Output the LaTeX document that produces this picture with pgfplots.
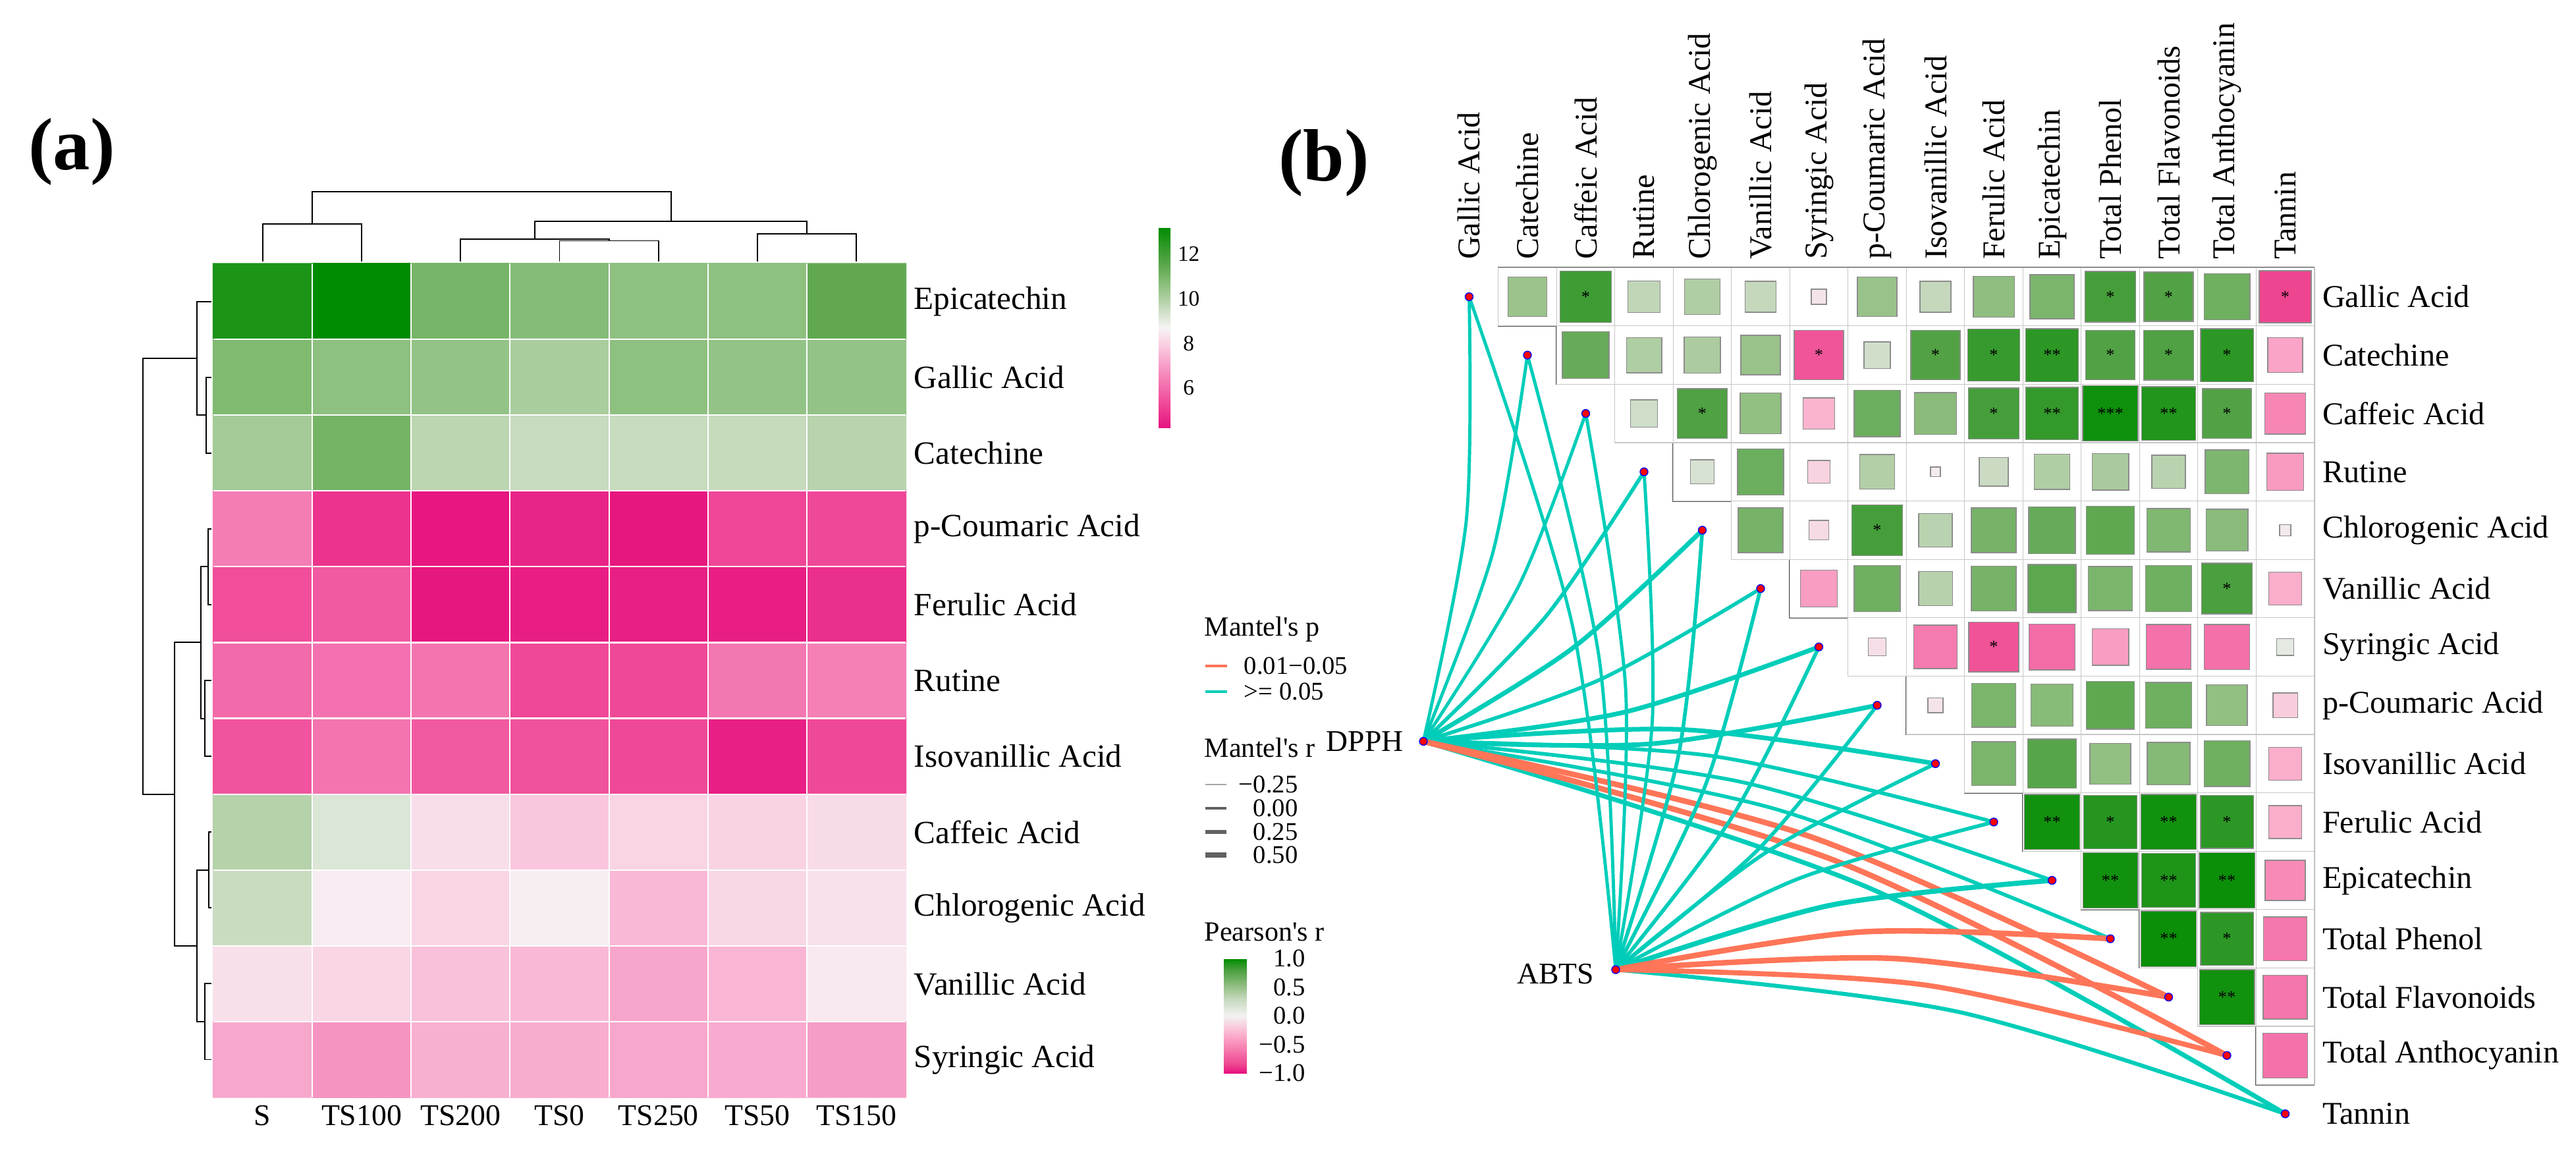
\documentclass[border=0pt]{standalone}
\usepackage{fontspec}
\setmainfont{Liberation Serif}
\usepackage{pgfplots}
\pgfplotsset{compat=1.18}
\usepackage{pgfplotstable}

\definecolor{lteal}{RGB}{0,205,185}
\definecolor{lorange}{RGB}{255,117,88}
\definecolor{rowline}{RGB}{85,85,85}

\pgfplotsset{
  /pgf/number format/assume math mode=true,
  colormap={hm}{rgb255(0pt)=(230,18,126) rgb255(120pt)=(239,71,151) rgb255(250pt)=(244,128,182) rgb255(400pt)=(250,199,222) rgb255(500pt)=(246,244,245) rgb255(620pt)=(188,213,177) rgb255(750pt)=(122,183,107) rgb255(800pt)=(98,168,82) rgb255(1000pt)=(0,140,0)},
  colormap={pr}{rgb255(0pt)=(231,17,126) rgb255(75pt)=(238,69,144) rgb255(250pt)=(248,140,185) rgb255(350pt)=(251,182,208) rgb255(500pt)=(242,242,242) rgb255(650pt)=(197,216,188) rgb255(750pt)=(151,193,135) rgb255(900pt)=(74,159,62) rgb255(1000pt)=(0,140,0)},
}

% heatmap values, rows top to bottom (y = 0 ... -10), columns S..TS150 (x = 0..6)
\pgfplotstableread{
x y v
0 0 12.7
1 0 13.2
2 0 11.0
3 0 10.75
4 0 10.6
5 0 10.6
6 0 11.4
0 -1 10.85
1 -1 10.6
2 -1 10.5
3 -1 10.1
4 -1 10.6
5 -1 10.5
6 -1 10.5
0 -2 10.2
1 -2 11.05
2 -2 9.76
3 -2 9.58
4 -2 9.58
5 -2 9.6
6 -2 9.85
0 -3 6.38
1 -3 4.89
2 -3 4.28
3 -3 4.57
4 -3 4.3
5 -3 5.26
6 -3 5.3
0 -4 5.4
1 -4 5.64
2 -4 4.3
3 -4 4.45
4 -4 4.47
5 -4 4.45
6 -4 4.8
0 -5 6.0
1 -5 6.14
2 -5 6.2
3 -5 5.3
4 -5 5.3
5 -5 6.27
6 -5 6.45
0 -6 5.54
1 -6 6.2
2 -6 5.64
3 -6 5.5
4 -6 5.3
5 -6 4.47
6 -6 5.3
0 -7 9.9
1 -7 9.18
2 -7 8.27
3 -7 7.78
4 -7 8.07
5 -7 8.05
6 -7 8.2
0 -8 9.54
1 -8 8.55
2 -8 8.08
3 -8 8.58
4 -8 7.52
5 -8 8.15
6 -8 8.33
0 -9 8.3
1 -9 8.1
2 -9 7.68
3 -9 7.54
4 -9 7.17
5 -9 7.48
6 -9 8.48
0 -10 7.2
1 -10 6.83
2 -10 7.36
3 -10 7.3
4 -10 7.2
5 -10 7.27
6 -10 7.0
}\hmdata

% Pearson's r, upper triangle: column x, row y (= -row index)
\pgfplotstableread{
x y r
1 0 0.48
2 0 0.83
3 0 0.32
4 0 0.39
5 0 0.30
6 0 -0.07
7 0 0.49
8 0 0.30
9 0 0.53
10 0 0.61
11 0 0.81
12 0 0.77
13 0 0.66
14 0 -0.85
2 -1 0.69
3 -1 0.39
4 -1 0.41
5 -1 0.49
6 -1 -0.77
7 -1 0.22
8 -1 0.77
9 -1 0.85
10 -1 0.88
11 -1 0.77
12 -1 0.78
13 -1 0.88
14 -1 -0.38
3 -2 0.23
4 -2 0.78
5 -2 0.52
6 -2 -0.31
7 -2 0.67
8 -2 0.55
9 -2 0.81
10 -2 0.86
11 -2 0.96
12 -2 0.91
13 -2 0.77
14 -2 -0.53
4 -3 0.18
5 -3 0.67
6 -3 -0.16
7 -3 0.38
8 -3 -0.03
9 -3 0.26
10 -3 0.39
11 -3 0.42
12 -3 0.35
13 -3 0.60
14 -3 -0.43
5 -4 0.63
6 -4 -0.12
7 -4 0.81
8 -4 0.35
9 -4 0.63
10 -4 0.69
11 -4 0.72
12 -4 0.59
13 -4 0.55
14 -4 -0.04
6 -5 -0.42
7 -5 0.66
8 -5 0.36
9 -5 0.63
10 -5 0.73
11 -5 0.61
12 -5 0.66
13 -5 0.80
14 -5 -0.34
7 -6 -0.10
8 -6 -0.59
9 -6 -0.78
10 -6 -0.66
11 -6 -0.42
12 -6 -0.63
13 -6 -0.64
14 -6 0.09
8 -7 -0.07
9 -7 0.61
10 -7 0.56
11 -7 0.72
12 -7 0.66
13 -7 0.52
14 -7 -0.19
9 -8 0.61
10 -8 0.75
11 -8 0.52
12 -8 0.57
13 -8 0.66
14 -8 -0.34
10 -9 0.95
11 -9 0.90
12 -9 0.95
13 -9 0.88
14 -9 -0.34
11 -10 0.95
12 -10 0.92
13 -10 0.97
14 -10 -0.51
12 -11 0.97
13 -11 0.88
14 -11 -0.60
13 -12 0.95
14 -12 -0.61
14 -13 -0.63
}\cells

\pgfplotstableread{
x y s
2 0 *
11 0 *
12 0 *
14 0 *
6 -1 *
8 -1 *
9 -1 *
10 -1 **
11 -1 *
12 -1 *
13 -1 *
4 -2 *
9 -2 *
10 -2 **
11 -2 ***
12 -2 **
13 -2 *
7 -4 *
13 -5 *
9 -6 *
10 -9 **
11 -9 *
12 -9 **
13 -9 *
11 -10 **
12 -10 **
13 -10 **
12 -11 **
13 -11 *
13 -12 **
}\stars

\begin{document}
\begin{tikzpicture}
\useasboundingbox (0,0) rectangle (39.11cm,-17.61cm);

% ---------------- (a) heatmap ----------------
\begin{axis}[
  at={(3.235cm,-4.0cm)}, anchor=north west,
  width=10.52cm, height=12.66cm, scale only axis,
  xmin=-0.5, xmax=6.5, ymin=-10.5, ymax=0.5,
  enlargelimits=false, clip=false, axis on top,
  axis line style={draw=none},
  xtick={0,...,6}, xticklabels={S,TS100,TS200,TS0,TS250,TS50,TS150},
  ytick={-10,...,0},
  yticklabels={Syringic Acid,Vanillic Acid,Chlorogenic Acid,Caffeic Acid,Isovanillic Acid,Rutine,Ferulic Acid,p-Coumaric Acid,Catechine,Gallic Acid,Epicatechin},
  yticklabel pos=right,
  major tick length=0pt, minor tick length=0pt,
  minor xtick={0.5,1.5,...,5.5}, minor ytick={-9.5,-8.5,...,-0.5},
  xminorgrids, yminorgrids, minor grid style={white, line width=0.6pt},
  xticklabel style={font=\fontsize{13}{15}\selectfont},
  yticklabel style={font=\fontsize{14}{16}\selectfont},
  colormap name=hm, point meta min=4.2, point meta max=13.2,
  colorbar,
  colorbar style={at={(parent axis.north east)}, anchor=north west,
    xshift=3.535cm, yshift=0.55cm, width=0.18cm, height=3.05cm,
    axis line style={draw=none}, major tick length=0pt,
    ytick={6,8,10,12}, yticklabels={6,8,10,12},
    yticklabel style={font=\fontsize{9.5}{11}\selectfont, anchor=west, text width=3.4mm, align=center, inner sep=0pt, xshift=1mm}},
]
\addplot[matrix plot*, mesh/cols=7, point meta=explicit] table[x=x, y=y, meta=v] {\hmdata};
% column dendrogram
\addplot[black, line width=0.55pt] coordinates {(0,0.53) (0,1.02) (1,1.02) (1,0.53)};
\addplot[black, line width=0.55pt] coordinates {(3,0.53) (3,0.80) (4,0.80) (4,0.53)};
\addplot[black, line width=0.55pt] coordinates {(2,0.53) (2,0.82) (3.5,0.82) (3.5,0.80)};
\addplot[black, line width=0.55pt] coordinates {(5,0.53) (5,0.89) (6,0.89) (6,0.53)};
\addplot[black, line width=0.55pt] coordinates {(2.75,0.82) (2.75,1.056) (5.5,1.056) (5.5,0.89)};
\addplot[black, line width=0.55pt] coordinates {(0.5,1.02) (0.5,1.447) (4.125,1.447) (4.125,1.056)};
% row dendrogram
\addplot[black, line width=0.55pt] coordinates {(-0.517,-1) (-0.57,-1) (-0.57,-2) (-0.517,-2)};
\addplot[black, line width=0.55pt] coordinates {(-0.517,0) (-0.663,0) (-0.663,-1.5) (-0.57,-1.5)};
\addplot[black, line width=0.55pt] coordinates {(-0.517,-3) (-0.55,-3) (-0.55,-4) (-0.517,-4)};
\addplot[black, line width=0.55pt] coordinates {(-0.517,-5) (-0.583,-5) (-0.583,-6) (-0.517,-6)};
\addplot[black, line width=0.55pt] coordinates {(-0.55,-3.5) (-0.623,-3.5) (-0.623,-5.5) (-0.583,-5.5)};
\addplot[black, line width=0.55pt] coordinates {(-0.517,-7) (-0.543,-7) (-0.543,-8) (-0.517,-8)};
\addplot[black, line width=0.55pt] coordinates {(-0.517,-9) (-0.583,-9) (-0.583,-10) (-0.517,-10)};
\addplot[black, line width=0.55pt] coordinates {(-0.543,-7.5) (-0.663,-7.5) (-0.663,-9.5) (-0.583,-9.5)};
\addplot[black, line width=0.55pt] coordinates {(-0.623,-4.5) (-0.889,-4.5) (-0.889,-8.5) (-0.663,-8.5)};
\addplot[black, line width=0.55pt] coordinates {(-0.663,-0.75) (-1.209,-0.75) (-1.209,-6.5) (-0.889,-6.5)};
\end{axis}

% ---------------- (b) correlation + Mantel links ----------------
\begin{axis}[
  at={(21.8625cm,-4.062cm)}, anchor=north west,
  width=13.275cm, height=13.29cm, scale only axis,
  xmin=-0.5, xmax=14.5, ymin=-14.5, ymax=0.5,
  enlargelimits=false, clip=false,
  axis line style={draw=none}, major tick length=0pt,
  xtick={0,...,14},
  xticklabels={Gallic Acid,Catechine,Caffeic Acid,Rutine,Chlorogenic Acid,Vanillic Acid,Syringic Acid,p-Coumaric Acid,Isovanillic Acid,Ferulic Acid,Epicatechin,Total Phenol,Total Flavonoids,Total Anthocyanin,Tannin},
  xticklabel pos=right,
  xticklabel style={rotate=90, anchor=west, font=\fontsize{13.7}{15}\selectfont},
  ytick={-14,...,0},
  yticklabels={Tannin,Total Anthocyanin,Total Flavonoids,Total Phenol,Epicatechin,Ferulic Acid,Isovanillic Acid,p-Coumaric Acid,Syringic Acid,Vanillic Acid,Chlorogenic Acid,Rutine,Caffeic Acid,Catechine,Gallic Acid},
  yticklabel pos=right,
  yticklabel style={anchor=west, font=\fontsize{13.7}{15}\selectfont},
  colormap name=pr, point meta min=-1, point meta max=1,
  colorbar,
  colorbar style={at={(parent axis.north west)}, anchor=north west,
    xshift=-3.5825cm, yshift=-10.488cm, width=0.35cm, height=1.74cm,
    axis line style={draw=none}, major tick length=0pt,
    ytick={-1,-0.5,0,0.5,1}, yticklabels={−1.0,−0.5,0.0,0.5,1.0},
    yticklabel style={font=\fontsize{11}{13}\selectfont, anchor=west, text width=7mm, align=right, inner sep=0pt, xshift=1.8mm}},
]
% empty cells
\addplot[only marks, mark=square*, mark size=12.6pt, mark options={fill=white, draw=black!22, line width=0.3pt}] table[x=x, y=y] {\cells};
% row outlines
\addplot[black!28, line width=0.5pt] coordinates {(14.5,0.5) (14.5,-13.5)};
\addplot[rowline, line width=0.6pt] coordinates {(14.5,0.5) (0.5,0.5) (0.5,-0.5) (14.5,-0.5) (1.5,-0.5) (1.5,-1.5) (14.5,-1.5) (2.5,-1.5) (2.5,-2.5) (14.5,-2.5) (3.5,-2.5) (3.5,-3.5) (14.5,-3.5) (4.5,-3.5) (4.5,-4.5) (14.5,-4.5) (5.5,-4.5) (5.5,-5.5) (14.5,-5.5) (6.5,-5.5) (6.5,-6.5) (14.5,-6.5) (7.5,-6.5) (7.5,-7.5) (14.5,-7.5) (8.5,-7.5) (8.5,-8.5) (14.5,-8.5) (9.5,-8.5) (9.5,-9.5) (14.5,-9.5) (10.5,-9.5) (10.5,-10.5) (14.5,-10.5) (11.5,-10.5) (11.5,-11.5) (14.5,-11.5) (12.5,-11.5) (12.5,-12.5) (14.5,-12.5) (13.5,-12.5) (13.5,-13.5) (14.5,-13.5)};
% coloured squares, side ~ sqrt(|r|)
\addplot[scatter, only marks, mark=square*, point meta=explicit,
  scatter/use mapped color={draw=black!45, fill=mapped color},
  mark options={line width=0.4pt},
  visualization depends on={sqrt(abs(\thisrow{r}))*12.2 \as \msz},
  scatter/@pre marker code/.append style={/tikz/mark size=\msz}]
  table[x=x, y=y, meta=r] {\cells};
% significance stars
\addplot[draw=none, mark=none, nodes near coords, point meta=explicit symbolic,
  nodes near coords style={anchor=center, inner sep=0pt, font=\fontsize{7.5}{7.5}\selectfont, text=black}]
  table[x=x, y=y, meta=s] {\stars};

% Mantel links from DPPH
\addplot[lteal, line width=1.4pt, smooth] coordinates {(-0.785,-7.618) (-0.050,-3.844) (0,0)};
\addplot[lteal, line width=1.4pt, smooth] coordinates {(-0.785,-7.618) (0.405,-4.389) (1,-1)};
\addplot[lteal, line width=1.4pt, smooth] coordinates {(-0.785,-7.618) (0.861,-4.934) (2,-2)};
\addplot[lteal, line width=1.6pt, smooth] coordinates {(-0.785,-7.618) (1.315,-5.479) (3,-3)};
\addplot[lteal, line width=2.0pt, smooth] coordinates {(-0.785,-7.618) (1.771,-6.024) (4,-4)};
\addplot[lteal, line width=1.6pt, smooth] coordinates {(-0.785,-7.618) (2.225,-6.569) (5,-5)};
\addplot[lteal, line width=2.0pt, smooth] coordinates {(-0.785,-7.618) (2.680,-7.114) (6,-6)};
\addplot[lteal, line width=2.0pt, smooth] coordinates {(-0.785,-7.618) (3.135,-7.659) (7,-7)};
\addplot[lteal, line width=2.0pt, smooth] coordinates {(-0.785,-7.618) (3.625,-7.414) (8,-8)};
\addplot[lteal, line width=1.6pt, smooth] coordinates {(-0.785,-7.618) (4.170,-7.869) (9,-9)};
\addplot[lteal, line width=1.6pt, smooth] coordinates {(-0.785,-7.618) (4.715,-8.324) (10,-10)};
\addplot[lteal, line width=1.6pt, smooth] coordinates {(-0.785,-7.618) (5.260,-8.779) (11,-11)};
\addplot[lteal, line width=2.0pt, smooth] coordinates {(-0.785,-7.618) (6.895,-10.144) (14,-14)};
\addplot[lorange, line width=2.4pt, smooth] coordinates {(-0.785,-7.618) (5.805,-9.234) (12,-12)};
\addplot[lorange, line width=2.4pt, smooth] coordinates {(-0.785,-7.618) (6.350,-9.689) (13,-13)};
% Mantel links from ABTS
\addplot[lteal, line width=1.4pt, smooth] coordinates {(2.514,-11.53) (1.776,-5.652) (0,0)};
\addplot[lteal, line width=1.4pt, smooth] coordinates {(2.514,-11.53) (2.231,-6.197) (1,-1)};
\addplot[lteal, line width=1.4pt, smooth] coordinates {(2.514,-11.53) (2.686,-6.742) (2,-2)};
\addplot[lteal, line width=1.4pt, smooth] coordinates {(2.514,-11.53) (3.141,-7.287) (3,-3)};
\addplot[lteal, line width=1.6pt, smooth] coordinates {(2.514,-11.53) (3.596,-7.832) (4,-4)};
\addplot[lteal, line width=1.6pt, smooth] coordinates {(2.514,-11.53) (4.051,-8.377) (5,-5)};
\addplot[lteal, line width=1.6pt, smooth] coordinates {(2.514,-11.53) (4.506,-8.922) (6,-6)};
\addplot[lteal, line width=1.6pt, smooth] coordinates {(2.514,-11.53) (4.961,-9.467) (7,-7)};
\addplot[lteal, line width=1.6pt, smooth] coordinates {(2.514,-11.53) (5.098,-9.518) (8,-8)};
\addplot[lteal, line width=1.6pt, smooth] coordinates {(2.514,-11.53) (5.643,-9.973) (9,-9)};
\addplot[lteal, line width=2.2pt, smooth] coordinates {(2.514,-11.53) (6.188,-10.428) (10,-10)};
\addplot[lteal, line width=1.75pt, smooth] coordinates {(2.514,-11.53) (8.368,-12.248) (14,-14)};
\addplot[lorange, line width=2.4pt, smooth] coordinates {(2.514,-11.53) (6.733,-10.883) (11,-11)};
\addplot[lorange, line width=2.4pt, smooth] coordinates {(2.514,-11.53) (7.278,-11.338) (12,-12)};
\addplot[lorange, line width=2.2pt, smooth] coordinates {(2.514,-11.53) (7.823,-11.793) (13,-13)};
% link end points
\addplot[only marks, mark=*, mark size=1.7pt, mark options={fill=red, draw=blue, line width=0.4pt}] coordinates {(0,0) (1,-1) (2,-2) (3,-3) (4,-4) (5,-5) (6,-6) (7,-7) (8,-8) (9,-9) (10,-10) (11,-11) (12,-12) (13,-13) (14,-14) (-0.785,-7.618) (2.514,-11.53)};
\node[anchor=east, font=\fontsize{13}{15}\selectfont] at (axis cs:-0.99,-7.618) {DPPH};
\node[anchor=east, font=\fontsize{13}{15}\selectfont] at (axis cs:2.28,-11.60) {ABTS};
\end{axis}

% ---------------- panel letters and legends (canvas in reference pixels) ----------------
\begin{axis}[
  at={(0cm,0cm)}, anchor=north west,
  width=39.11cm, height=17.61cm, scale only axis, hide axis,
  xmin=0, xmax=3911, ymin=-1761, ymax=0, clip=false,
]
\node[font=\bfseries\fontsize{32}{36}\selectfont] at (axis cs:109,-230) {(a)};
\node[font=\bfseries\fontsize{32}{36}\selectfont] at (axis cs:2010,-247) {(b)};
% Mantel's p
\node[anchor=base west, font=\fontsize{12}{14}\selectfont, inner sep=0pt] at (axis cs:1828,-965) {Mantel\textquotesingle s p};
\addplot[lorange, line width=1.4pt] coordinates {(1830,-1011) (1863,-1011)};
\addplot[lteal, line width=1.4pt] coordinates {(1830,-1050) (1863,-1050)};
\node[anchor=west, font=\fontsize{11}{13}\selectfont, inner sep=0pt] at (axis cs:1888,-1011) {0.01−0.05};
\node[anchor=west, font=\fontsize{11}{13}\selectfont, inner sep=0pt] at (axis cs:1888,-1050) {>= 0.05};
% Mantel's r
\node[anchor=base west, font=\fontsize{12}{14}\selectfont, inner sep=0pt] at (axis cs:1828,-1149) {Mantel\textquotesingle s r};
\addplot[black!35, line width=0.5pt] coordinates {(1830,-1191) (1862,-1191)};
\addplot[black!62, line width=1.4pt] coordinates {(1830,-1227) (1862,-1227)};
\addplot[black!62, line width=1.8pt] coordinates {(1830,-1263) (1862,-1263)};
\addplot[black!62, line width=2.2pt] coordinates {(1830,-1298) (1862,-1298)};
\node[anchor=east, font=\fontsize{11}{13}\selectfont, inner sep=0pt] at (axis cs:1971,-1191) {−0.25};
\node[anchor=east, font=\fontsize{11}{13}\selectfont, inner sep=0pt] at (axis cs:1971,-1227) {0.00};
\node[anchor=east, font=\fontsize{11}{13}\selectfont, inner sep=0pt] at (axis cs:1971,-1263) {0.25};
\node[anchor=east, font=\fontsize{11}{13}\selectfont, inner sep=0pt] at (axis cs:1971,-1298) {0.50};
% Pearson's r title (colorbar belongs to panel b)
\node[anchor=base west, font=\fontsize{12}{14}\selectfont, inner sep=0pt] at (axis cs:1828,-1428) {Pearson\textquotesingle s r};
\end{axis}
\end{tikzpicture}
\end{document}
